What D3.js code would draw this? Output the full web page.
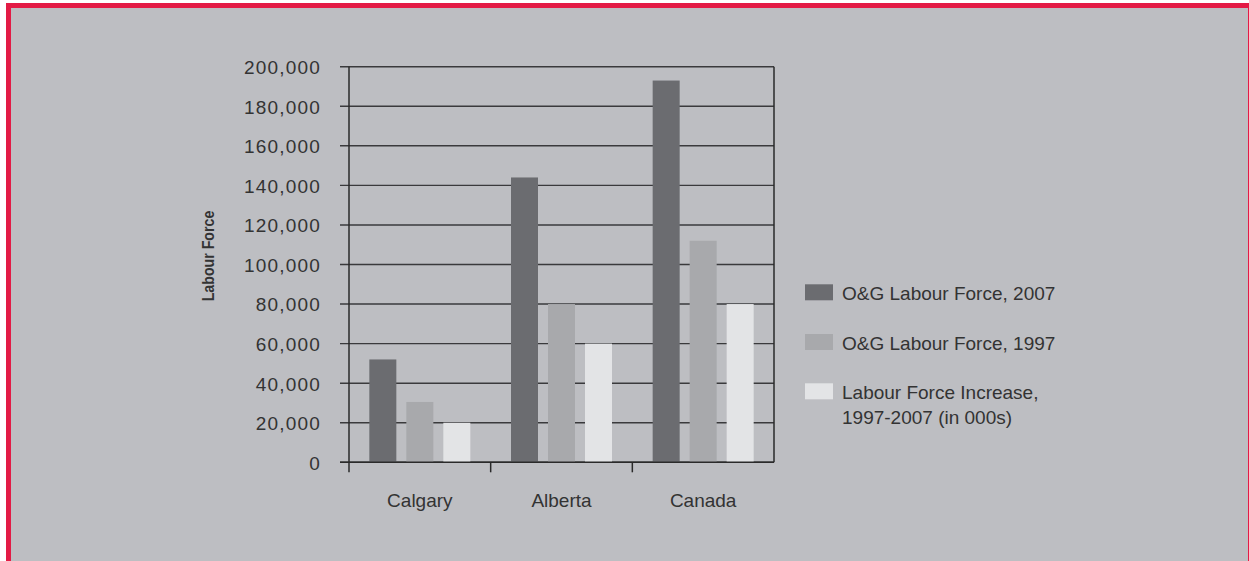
<!DOCTYPE html>
<html>
<head>
<meta charset="utf-8">
<script src="https://cdn.jsdelivr.net/npm/d3@7"></script>
<style>
html,body{margin:0;padding:0;background:#fff;}
svg{display:block;}
text{font-family:"Liberation Sans",Arial,sans-serif;fill:#333;}
</style>
</head>
<body>
<svg id="chart" width="1249" height="561"></svg>
<script>
const categories = ["Calgary", "Alberta", "Canada"];
const seriesNames = ["O&G Labour Force, 2007", "O&G Labour Force, 1997", "Labour Force Increase, 1997-2007 (in 000s)"];
const legendLines = [["O&G Labour Force, 2007"], ["O&G Labour Force, 1997"], ["Labour Force Increase,", "1997-2007 (in 000s)"]];
const values2007 = [52000, 144000, 193000];
const values1997 = [30500, 80000, 112000];
const valuesIncrease = [20000, 60000, 80000];
const yTicks = [0, 20000, 40000, 60000, 80000, 100000, 120000, 140000, 160000, 180000, 200000];
const colors = ["#6b6c70", "#a8a9ac", "#e3e4e6"];

const series = [values2007, values1997, valuesIncrease];
const svg = d3.select("#chart");

// frame
svg.append("rect").attr("x", 6).attr("y", 3).attr("width", 1243).attr("height", 558).attr("fill", "#e31b45");
svg.append("rect").attr("x", 11).attr("y", 8).attr("width", 1237).attr("height", 553).attr("fill", "#bdbec2");

const pLeft = 349, pRight = 774, pTop = 66.7, pBottom = 462.3;
const x = d3.scaleBand().domain(categories).range([pLeft, pRight]).padding(0);
const y = d3.scaleLinear().domain([0, 200000]).range([pBottom, pTop]);
const groupW = 101;
const xi = d3.scaleBand().domain(d3.range(series.length)).range([0, groupW]).paddingInner(10 / 37);

// gridlines
svg.append("g").selectAll("line").data(yTicks).join("line")
  .attr("x1", pLeft - 9).attr("x2", pRight)
  .attr("y1", d => y(d)).attr("y2", d => y(d))
  .attr("stroke", "#3a3a3c").attr("stroke-width", 1.4);

// y axis labels via d3 axis
const yAxis = d3.axisLeft(y).tickValues(yTicks).tickSize(0).tickPadding(28)
  .tickFormat(d3.format(","));
const gy = svg.append("g").attr("transform", `translate(${pLeft},0)`).call(yAxis);
gy.select(".domain").remove();
gy.selectAll("text").style("font-size", "19px").style("letter-spacing", "1.2px")
  .style("font-family", "'Liberation Sans',Arial,sans-serif")
  .attr("fill", "#333").attr("dy", "0.36em").attr("x", -28);

// bars
const groups = svg.append("g").selectAll("g").data(categories).join("g")
  .attr("transform", c => `translate(${x(c) + (x.bandwidth() - groupW) / 2},0)`);
groups.selectAll("rect").data((c, ci) => series.map((s, si) => ({si, v: s[ci]}))).join("rect")
  .attr("x", d => xi(d.si)).attr("width", xi.bandwidth())
  .attr("y", d => y(d.v)).attr("height", d => pBottom - y(d.v))
  .attr("fill", d => colors[d.si]);

// frame lines
svg.append("line").attr("x1", pLeft).attr("x2", pLeft).attr("y1", pTop).attr("y2", pBottom + 10)
  .attr("stroke", "#2a2a2a").attr("stroke-width", 1.5);
svg.append("line").attr("x1", pRight).attr("x2", pRight).attr("y1", pTop).attr("y2", pBottom)
  .attr("stroke", "#2a2a2a").attr("stroke-width", 1.5);
svg.append("line").attr("x1", pLeft - 9).attr("x2", pRight).attr("y1", pBottom).attr("y2", pBottom)
  .attr("stroke", "#2a2a2a").attr("stroke-width", 1.5);

// category ticks and labels via axis
const xAxis = d3.axisBottom(x).tickSize(0).tickPadding(0);
const gx = svg.append("g").attr("transform", `translate(0,${pBottom})`).call(xAxis);
gx.select(".domain").remove();
gx.selectAll("text").style("font-size", "19px")
  .style("font-family", "'Liberation Sans',Arial,sans-serif")
  .attr("fill", "#333").attr("y", 45).attr("dy", 0);
svg.append("g").selectAll("line").data(categories.slice(1)).join("line")
  .attr("x1", c => x(c)).attr("x2", c => x(c)).attr("y1", pBottom).attr("y2", pBottom + 10)
  .attr("stroke", "#2a2a2a").attr("stroke-width", 1.5);

// y title
svg.append("text").attr("transform", "translate(214,256) rotate(-90) scale(0.86,1)")
  .attr("text-anchor", "middle")
  .style("font-family", "'Liberation Sans',Arial,sans-serif")
  .style("font-weight", "bold").style("font-size", "16.5px").attr("fill", "#222")
  .text("Labour Force");

// legend
const legendY = [284.3, 334, 383.3];
const leg = svg.append("g").selectAll("g").data(seriesNames).join("g")
  .attr("transform", (d, i) => `translate(805,${legendY[i]})`);
leg.append("rect").attr("width", 28).attr("height", 16).attr("fill", (d, i) => colors[i]);
leg.append("text").attr("x", 37).attr("y", 15.7).style("font-size", "19px").attr("fill", "#333")
  .selectAll("tspan").data((d, i) => legendLines[i]).join("tspan")
  .attr("x", 37).attr("dy", (d, j) => j === 0 ? 0 : 24.7).text(d => d);
</script>
</body>
</html>
